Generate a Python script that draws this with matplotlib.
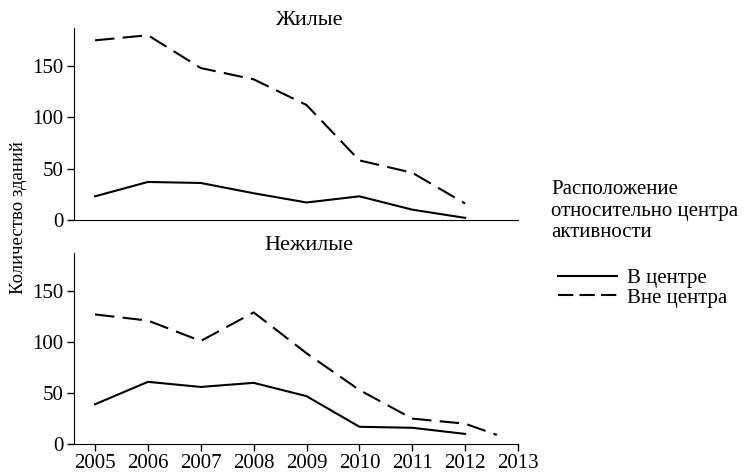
import matplotlib
matplotlib.use("Agg")
import matplotlib.pyplot as plt
from matplotlib.lines import Line2D

plt.rcParams['font.family'] = ['Liberation Serif', 'DejaVu Serif']
plt.rcParams['lines.scale_dashes'] = False

# данные
years = [2005, 2006, 2007, 2008, 2009, 2010, 2011, 2012]
years_out_nonres = [2005, 2006, 2007, 2008, 2009, 2010, 2011, 2012, 2012.6]

res_center = [23, 37, 36, 26, 17, 23, 10, 2]
res_outside = [175, 180, 148, 137, 112, 58, 46, 16]

nonres_center = [39, 61, 56, 60, 47, 17, 16, 10]
nonres_outside = [127, 121, 101, 129, 89, 53, 25, 20, 9]

panel_titles = ['Жилые', 'Нежилые']
series_labels = ['В центре', 'Вне центра']
legend_title = 'Расположение\nотносительно центра\nактивности'
year_ticks = list(range(2005, 2014))
y_ticks = [0, 50, 100, 150]

DASH = (14, 6)
LW = 1.5

fig = plt.figure(figsize=(7.54, 4.75), dpi=100)
ax1 = fig.add_axes([0.098, 0.537, 0.589, 0.404])
ax2 = fig.add_axes([0.098, 0.065, 0.589, 0.402])

panels = [
    (ax1, years, res_center, years, res_outside),
    (ax2, years, nonres_center, years_out_nonres, nonres_outside),
]

for (ax, xc, yc, xo, yo), title in zip(panels, panel_titles):
    ax.plot(xc, yc, color='black', lw=LW)
    ax.plot(xo, yo, color='black', lw=LW, dashes=DASH)
    ax.set_xlim(2004.6, 2013)
    ax.set_ylim(0, 187)
    ax.set_yticks(y_ticks)
    ax.spines['top'].set_visible(False)
    ax.spines['right'].set_visible(False)
    ax.tick_params(labelsize=15, length=5, width=1, direction='out')
    ax.tick_params(axis='y', pad=2.5)
    ax.text(0.53, 0.988, title, transform=ax.transAxes, ha='center', va='bottom',
            fontsize=16)

ax1.set_xticks([])
ax2.set_xticks(year_ticks)
ax2.set_xticklabels([str(y) for y in year_ticks])
ax2.tick_params(axis='x', pad=2)

fig.text(0.024, 0.543, 'Количество зданий', rotation=90, va='center', ha='center',
         fontsize=13.5)

# заголовок легенды отдельно, записи легенды с отступом
fig.text(551 / 754, 1 - 180 / 475, legend_title, ha='left', va='top',
         fontsize=15, linespacing=1.18)

handles = [Line2D([], [], color='black', lw=LW),
           Line2D([], [], color='black', lw=LW, dashes=(11, 4.5))]
fig.legend(handles, series_labels, loc='upper left', bbox_to_anchor=(0.740, 0.435),
           frameon=False, fontsize=15, handlelength=2.83, handletextpad=0.48,
           labelspacing=0.0, borderpad=0, borderaxespad=0)

fig.savefig('out.png', dpi=100)
